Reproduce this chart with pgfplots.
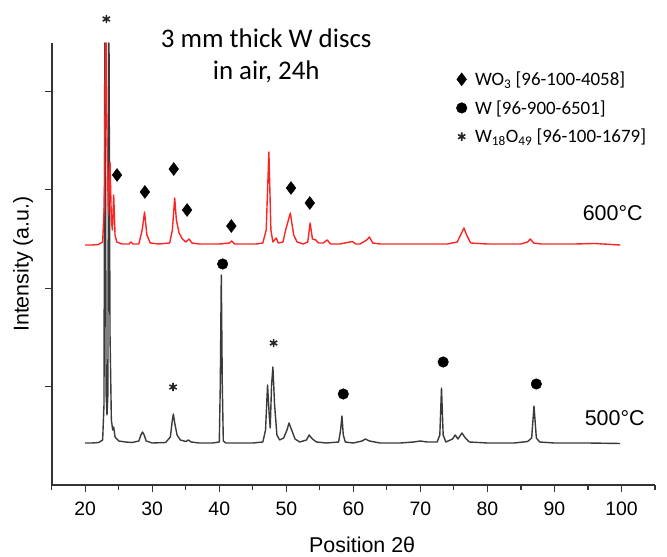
\documentclass[border=0pt]{standalone}
\usepackage{fontspec}
\setmainfont{Liberation Sans}
\newfontfamily\carlito{Carlito}
\usepackage{pgfplots}
\pgfplotsset{compat=1.18}
\definecolor{curveblack}{HTML}{3A3A3A}
\definecolor{curvered}{HTML}{FF2424}
\definecolor{axisgray}{HTML}{333333}
\begin{document}
\begin{tikzpicture}
\begin{axis}[
  at={(51.7bp,72bp)}, anchor=south west,
  scale only axis, width=603.3bp, height=442bp,
  xmin=15, xmax=105, ymin=0, ymax=442,
  clip=false,
  axis lines*=left,
  axis line style={-, line width=1.6bp, color=axisgray},
  xtick={20,30,...,100},
  xticklabels={20,30,40,50,60,70,80,90,100},
  minor xtick={15,25,...,105},
  ytick={98.4,196.8,295.2,393.6},
  yticklabels={},
  tick align=outside,
  tick style={line width=1.2bp, color=axisgray},
  major tick length=7bp,
  minor tick length=4.5bp,
  xtick pos=left, ytick pos=left,
  /pgf/number format/assume math mode=true,
  tick label style={font=\fontsize{19.5}{22}\selectfont},
  xticklabel style={yshift=-6bp, font=\fontsize{19.5}{22}\selectfont},
  xlabel={Position 2θ},
  ylabel={Intensity (a.u.)},
  every axis x label/.style={at={(axis description cs:0.5146,-0.1357)}, anchor=center, font=\fontsize{21.5}{24}\selectfont},
  every axis y label/.style={at={(axis description cs:-0.0476,0.5)}, anchor=center, rotate=90, font=\fontsize{21.5}{24}\selectfont},
  legend style={at={(axis description cs:0.6705,0.9400)}, anchor=north west, draw=none, fill=none,
    font=\carlito\fontsize{19}{22}\selectfont, row sep=9.5bp, inner sep=0pt, column sep=6bp},
  legend cell align=left,
  legend image code/.code={\draw[#1, mark repeat=1] plot coordinates {(0bp,0bp)};},
]
% 500 C
\addplot[forget plot, color=curveblack, line width=1.4bp, line join=round] coordinates {
(20,42) (21,42) (22,42.5) (22.6,45) (22.8,80) (22.92,442) (22.98,442) (23.12,90) (23.25,70) (23.38,90) (23.49,442) (23.55,442) (23.7,150) (23.9,65) (24.1,55) (24.25,58) (24.45,48) (25,44) (26,43) (27,42.5) (28,44) (28.3,50) (28.55,53) (28.8,50) (29.1,44) (30,42) (32,42.5) (32.7,48) (33.0,65) (33.15,71) (33.35,62) (33.7,50) (34.2,45) (35,43.5) (35.4,45) (35.8,43) (37,42) (39,42) (40.0,43) (40.15,100) (40.3,210) (40.45,100) (40.6,44) (41,42) (43,42) (45,42) (46.5,43) (46.9,55) (47.2,100) (47.45,70) (47.6,57) (47.8,100) (48.0,118) (48.25,80) (48.6,50) (49,45) (49.6,47) (50.1,55) (50.4,62) (50.8,55) (51.3,46) (52,43) (53,45) (53.4,50) (53.9,46) (54.5,43) (56,42) (57.8,43) (58.1,55) (58.3,69) (58.5,50) (58.8,43) (60,42) (61.3,44) (61.8,46) (62.4,44) (64,42) (67,42) (69,43) (70,44) (71,43) (72.5,43) (72.9,50) (73.15,97) (73.4,50) (73.8,43) (74.8,46) (75.2,50) (75.6,46) (76.2,52) (76.7,47) (77.3,43) (80,42) (84,42) (86,43.5) (86.6,47) (86.95,79) (87.3,47) (87.8,43) (90,42) (95,42) (99.8,41.5)
};
% 600 C
\addplot[forget plot, color=curvered, line width=1.4bp, line join=round] coordinates {
(20,240) (21,240) (22,240.5) (22.6,243) (22.85,280) (23.02,442) (23.12,442) (23.25,350) (23.45,270) (23.7,323) (23.9,265) (24.05,255) (24.25,290) (24.45,250) (24.7,243) (25.5,241) (26.5,241) (26.8,243) (27.1,241) (28,241) (28.5,255) (28.85,273) (29.2,250) (29.7,242) (31,241) (32.6,242) (33.0,255) (33.35,287) (33.6,265) (34.0,252) (34.5,246) (35.0,243) (35.5,246) (35.9,242) (37,241) (40,241) (41.5,242) (41.85,244) (42.3,241) (44,241) (45.5,241) (46.5,242) (47.0,255) (47.4,333) (47.7,255) (48.0,243) (48.5,247) (48.8,242) (49.5,243) (49.9,255) (50.6,272) (51.1,250) (51.6,243) (52.5,241) (53.2,243) (53.55,262) (53.9,246) (54.4,245) (54.8,242) (55.5,242) (56.1,245) (56.6,241) (58,241) (59.5,243) (59.9,243.5) (60.3,241) (61,241) (62,245) (62.4,248) (62.9,242) (64,241) (70,241) (72,241) (74,241) (75.5,243) (76.0,250) (76.5,257) (76.9,250) (77.5,242) (80,241) (85,241) (86.0,243) (86.4,246) (86.9,242) (88,241) (93,241) (96,241.5) (99.8,240)
};
% markers
\addplot[only marks, mark=diamond*, mark size=6.5bp, color=black] coordinates {
(24.75,310) (28.9,293) (33.2,316) (35.2,275) (41.8,259) (50.7,297) (53.5,282)
};
\addlegendentry{WO\textsubscript{3} [96-100-4058]}
\addplot[only marks, mark=*, mark size=5.3bp, color=black] coordinates {
(40.5,221) (58.5,91) (73.4,123) (87.3,101)
};
\addlegendentry{W [96-900-6501]}
\addplot[only marks, mark=asterisk, mark size=4.2bp, line width=1.6bp, color=black!85] coordinates {
(33.1,98) (48.1,142) (23.15,466)
};
\addlegendentry{W\textsubscript{18}O\textsubscript{49} [96-100-1679]}
\node[font=\carlito\fontsize{27}{32}\selectfont, anchor=center] at (axis cs:47.0,447) {3 mm thick W discs};
\node[font=\carlito\fontsize{27}{32}\selectfont, anchor=center] at (axis cs:47.0,413) {in air, 24h};
\node[font=\fontsize{21.5}{24}\selectfont, anchor=west, inner sep=0pt] at (axis cs:94.2,272) {600°C};
\node[font=\fontsize{21.5}{24}\selectfont, anchor=west, inner sep=0pt] at (axis cs:94.5,67) {500°C};
\end{axis}
\pgfresetboundingbox
\useasboundingbox (0,0) rectangle (667bp,557bp);
\end{tikzpicture}
\end{document}
